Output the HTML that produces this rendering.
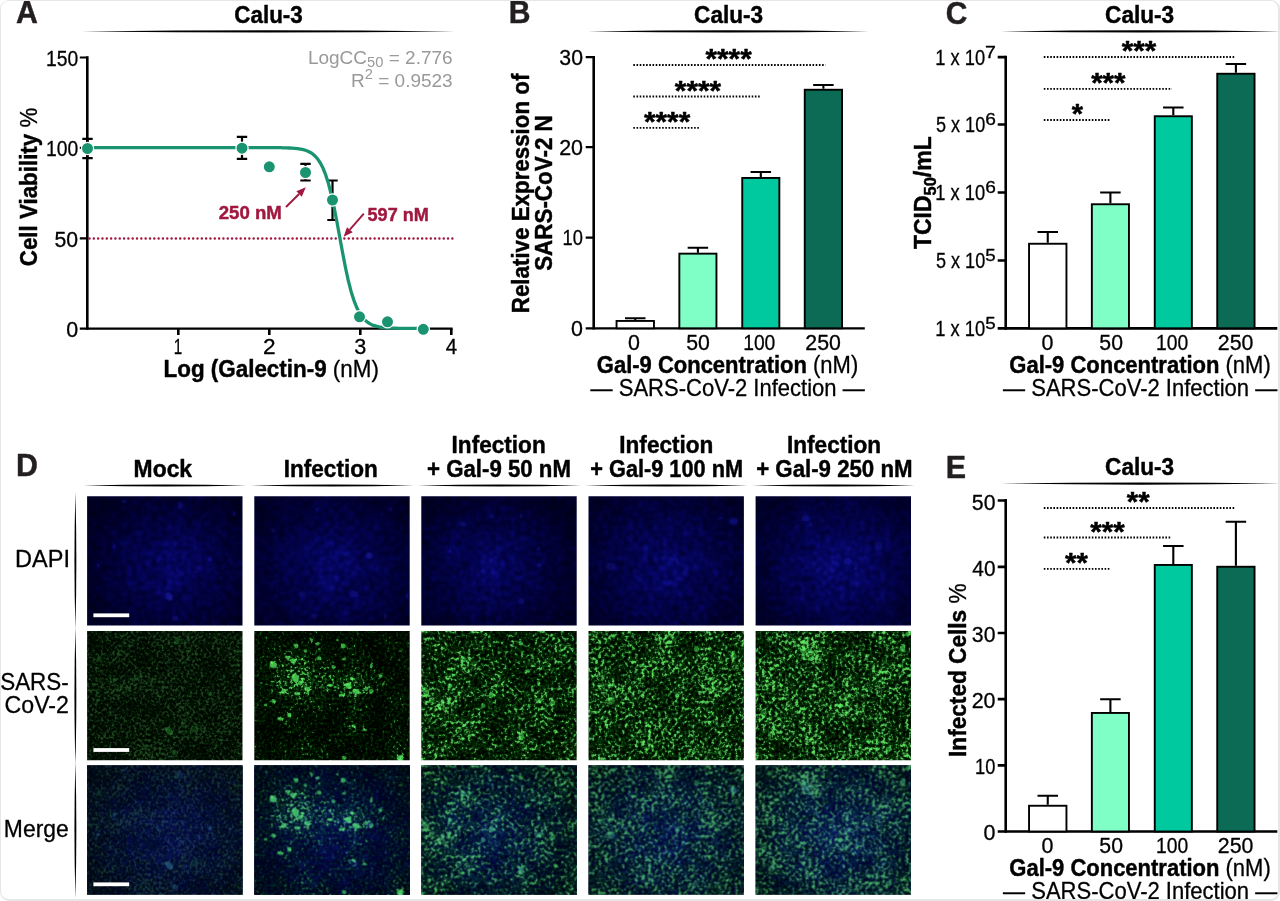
<!DOCTYPE html>
<html lang="en">
<head>
<meta charset="utf-8">
<title>Galectin-9 and SARS-CoV-2 infection in Calu-3 cells</title>
<style>
html,body{margin:0;padding:0;background:#fff;}
body{width:1280px;height:901px;overflow:hidden;position:relative;}
#frame{position:absolute;left:0;top:0;width:1280px;height:901px;box-sizing:border-box;border:1px solid #e6e6e6;border-right-width:2px;border-bottom-width:2px;border-radius:9px;pointer-events:none;}
svg{position:absolute;left:0;top:0;display:block;}
svg text{font-family:"Liberation Sans",sans-serif;stroke-linejoin:round;}
</style>
</head>
<body>
<svg width="1280" height="901" viewBox="0 0 1280 901">
<defs>
<clipPath id="page"><rect x="0" y="0" width="1278.5" height="899.3"/></clipPath>
<radialGradient id="rgw"><stop offset="0" stop-color="#fff"/><stop offset="0.5" stop-color="#fff" stop-opacity="0.6"/><stop offset="1" stop-color="#fff" stop-opacity="0"/></radialGradient><radialGradient id="rgk"><stop offset="0" stop-color="#000"/><stop offset="0.5" stop-color="#000" stop-opacity="0.6"/><stop offset="1" stop-color="#000" stop-opacity="0"/></radialGradient><filter id="bl1" x="-5%" y="-5%" width="110%" height="110%"><feGaussianBlur stdDeviation="0.6"/></filter><filter id="bl2" x="-5%" y="-5%" width="110%" height="110%"><feGaussianBlur stdDeviation="1.3"/></filter>
<filter id="gf0" x="0" y="0" width="100%" height="100%" color-interpolation-filters="sRGB"><feTurbulence type="fractalNoise" baseFrequency="0.36" numOctaves="2" seed="7"/><feColorMatrix type="matrix" values="1 0 0 0 0 1 0 0 0 0 1 0 0 0 0 0 0 0 0 1" result="h"/><feTurbulence type="fractalNoise" baseFrequency="0.045" numOctaves="2" seed="107"/><feColorMatrix type="matrix" values="1 0 0 0 0 1 0 0 0 0 1 0 0 0 0 0 0 0 0 1" result="l"/><feComposite in="h" in2="l" operator="arithmetic" k1="0" k2="1" k3="0.3" k4="-0.150" result="h"/><feComposite in="h" in2="SourceGraphic" operator="arithmetic" k1="0" k2="0.8" k3="0.06" k4="0.070"/><feComponentTransfer><feFuncR type="table" tableValues="0 0 0 0 0 0 0 0 0 0.004 0.007 0.022 0.05 0.079 0.101 0.115 0.122 0.13 0.133 0.137 0.137"/><feFuncG type="table" tableValues="0.004 0.004 0.004 0.004 0.007 0.011 0.018 0.029 0.04 0.05 0.065 0.094 0.14 0.198 0.248 0.284 0.31 0.324 0.335 0.342 0.342"/><feFuncB type="table" tableValues="0 0 0 0 0 0 0 0 0 0.004 0.011 0.025 0.054 0.083 0.104 0.119 0.126 0.133 0.137 0.14 0.14"/><feFuncA type="table" tableValues="1 1"/></feComponentTransfer><feGaussianBlur stdDeviation="0.6"/></filter><g id="gs0"><g filter="url(#gf0)"><rect width="155.4" height="129.2" fill="rgb(0,0,0)"/><ellipse cx="78" cy="64" rx="120" ry="100" fill="url(#rgw)" opacity="0.4"/><g filter="url(#bl1)"><ellipse cx="35" cy="5" rx="2.93" ry="1.95" fill="#fff" opacity="0.6"/><ellipse cx="90" cy="10" rx="3.9" ry="5.85" fill="#fff" opacity="0.5" transform="rotate(20 90 10)"/><ellipse cx="12" cy="28" rx="3.9" ry="4.88" fill="#fff" opacity="0.35"/><ellipse cx="27" cy="49" rx="2.44" ry="2.93" fill="#fff" opacity="0.7"/><ellipse cx="11" cy="62" rx="2.44" ry="1.95" fill="#fff" opacity="0.6"/><ellipse cx="11" cy="69" rx="2.93" ry="2.44" fill="#fff" opacity="0.7"/><ellipse cx="71" cy="65" rx="1.76" ry="1.76" fill="#fff" opacity="0.6"/><ellipse cx="123" cy="63" rx="2.44" ry="3.41" fill="#fff" opacity="0.7" transform="rotate(30 123 63)"/><ellipse cx="143" cy="64" rx="2.93" ry="1.76" fill="#fff" opacity="0.6"/><ellipse cx="82" cy="100" rx="4.88" ry="6.83" fill="#fff" opacity="0.7" transform="rotate(-35 82 100)"/><ellipse cx="108" cy="98" rx="5.85" ry="4.88" fill="#fff" opacity="0.35"/><ellipse cx="88" cy="122" rx="4.88" ry="3.9" fill="#fff" opacity="0.4"/><ellipse cx="117" cy="78" rx="2.93" ry="1.95" fill="#fff" opacity="0.5"/><ellipse cx="133" cy="109" rx="1.95" ry="1.95" fill="#fff" opacity="0.5"/><ellipse cx="151" cy="20" rx="1.46" ry="3.9" fill="#fff" opacity="0.5"/></g></g><g filter="url(#bl1)" opacity="0.6"><ellipse cx="35" cy="5" rx="1.95" ry="1.3" fill="#2a9a36" opacity="0.6"/><ellipse cx="90" cy="10" rx="2.6" ry="3.9" fill="#2a9a36" opacity="0.5" transform="rotate(20 90 10)"/><ellipse cx="12" cy="28" rx="2.6" ry="3.25" fill="#2a9a36" opacity="0.35"/><ellipse cx="27" cy="49" rx="1.62" ry="1.95" fill="#2a9a36" opacity="0.7"/><ellipse cx="11" cy="62" rx="1.62" ry="1.3" fill="#2a9a36" opacity="0.6"/><ellipse cx="11" cy="69" rx="1.95" ry="1.62" fill="#2a9a36" opacity="0.7"/><ellipse cx="71" cy="65" rx="1.17" ry="1.17" fill="#2a9a36" opacity="0.6"/><ellipse cx="123" cy="63" rx="1.62" ry="2.27" fill="#2a9a36" opacity="0.7" transform="rotate(30 123 63)"/><ellipse cx="143" cy="64" rx="1.95" ry="1.17" fill="#2a9a36" opacity="0.6"/><ellipse cx="82" cy="100" rx="3.25" ry="4.55" fill="#2a9a36" opacity="0.7" transform="rotate(-35 82 100)"/><ellipse cx="108" cy="98" rx="3.9" ry="3.25" fill="#2a9a36" opacity="0.35"/><ellipse cx="88" cy="122" rx="3.25" ry="2.6" fill="#2a9a36" opacity="0.4"/><ellipse cx="117" cy="78" rx="1.95" ry="1.3" fill="#2a9a36" opacity="0.5"/><ellipse cx="133" cy="109" rx="1.3" ry="1.3" fill="#2a9a36" opacity="0.5"/><ellipse cx="151" cy="20" rx="0.98" ry="2.6" fill="#2a9a36" opacity="0.5"/></g></g>
<filter id="df0" x="0" y="0" width="100%" height="100%" color-interpolation-filters="sRGB"><feTurbulence type="fractalNoise" baseFrequency="0.2" numOctaves="2" seed="41"/><feColorMatrix type="matrix" values="1 0 0 0 0 1 0 0 0 0 1 0 0 0 0 0 0 0 0 1" result="h"/><feTurbulence type="fractalNoise" baseFrequency="0.05" numOctaves="2" seed="141"/><feColorMatrix type="matrix" values="1 0 0 0 0 1 0 0 0 0 1 0 0 0 0 0 0 0 0 1" result="l"/><feComposite in="h" in2="l" operator="arithmetic" k1="0" k2="1" k3="0.35" k4="-0.175" result="h"/><feComposite in="h" in2="SourceGraphic" operator="arithmetic" k1="0" k2="0.55" k3="0.42" k4="0.005"/><feComponentTransfer><feFuncR type="table" tableValues="0 0 0 0 0 0 0 0 0 0.005 0.005 0.01 0.01 0.015 0.02 0.03 0.04 0.06 0.08 0.1 0.13"/><feFuncG type="table" tableValues="0 0 0 0 0 0 0 0 0 0.005 0.005 0.01 0.01 0.015 0.02 0.03 0.04 0.06 0.08 0.1 0.13"/><feFuncB type="table" tableValues="0.08 0.08 0.09 0.1 0.11 0.12 0.14 0.16 0.18 0.2 0.23 0.26 0.3 0.34 0.38 0.43 0.49 0.56 0.64 0.72 0.8"/><feFuncA type="table" tableValues="1 1"/></feComponentTransfer><feGaussianBlur stdDeviation="0.8"/></filter><g id="dp0"><g filter="url(#df0)"><rect width="155.4" height="129.2" fill="rgb(0,0,0)"/><ellipse cx="85" cy="70" rx="95" ry="85" fill="url(#rgw)" opacity="1.0"/></g><g filter="url(#bl2)"><ellipse cx="37" cy="5" rx="1.95" ry="1.62" fill="#1c1cb4" opacity="0.6"/><ellipse cx="93" cy="9" rx="2.6" ry="3.9" fill="#1c1cb4" opacity="0.4"/><ellipse cx="147" cy="17" rx="1.62" ry="2.6" fill="#1c1cb4" opacity="0.4"/><ellipse cx="27" cy="50" rx="1.62" ry="1.95" fill="#1c1cb4" opacity="0.5"/><ellipse cx="11" cy="69" rx="1.62" ry="1.3" fill="#1c1cb4" opacity="0.6"/><ellipse cx="71" cy="65" rx="1.17" ry="1.17" fill="#1c1cb4" opacity="0.5"/><ellipse cx="123" cy="63" rx="1.62" ry="2.27" fill="#1c1cb4" opacity="0.7" transform="rotate(30 123 63)"/><ellipse cx="143" cy="64" rx="1.95" ry="1.17" fill="#1c1cb4" opacity="0.4"/><ellipse cx="82" cy="100" rx="3.25" ry="4.55" fill="#1c1cb4" opacity="0.6" transform="rotate(-35 82 100)"/><ellipse cx="108" cy="76" rx="1.95" ry="1.3" fill="#1c1cb4" opacity="0.4"/><ellipse cx="88" cy="122" rx="3.25" ry="2.6" fill="#1c1cb4" opacity="0.4"/></g></g>
<filter id="gf1" x="0" y="0" width="100%" height="100%" color-interpolation-filters="sRGB"><feTurbulence type="fractalNoise" baseFrequency="0.36" numOctaves="2" seed="12"/><feColorMatrix type="matrix" values="1 0 0 0 0 1 0 0 0 0 1 0 0 0 0 0 0 0 0 1" result="h"/><feTurbulence type="fractalNoise" baseFrequency="0.045" numOctaves="2" seed="112"/><feColorMatrix type="matrix" values="1 0 0 0 0 1 0 0 0 0 1 0 0 0 0 0 0 0 0 1" result="l"/><feComposite in="h" in2="l" operator="arithmetic" k1="0" k2="1" k3="0.3" k4="-0.150" result="h"/><feComposite in="h" in2="SourceGraphic" operator="arithmetic" k1="0" k2="1.0" k3="0.24" k4="-0.210"/><feComponentTransfer><feFuncR type="table" tableValues="0 0 0 0 0 0 0 0 0 0.01 0.02 0.06 0.14 0.22 0.28 0.32 0.34 0.36 0.37 0.38 0.38"/><feFuncG type="table" tableValues="0.01 0.01 0.01 0.01 0.02 0.03 0.05 0.08 0.11 0.14 0.18 0.26 0.39 0.55 0.69 0.79 0.86 0.9 0.93 0.95 0.95"/><feFuncB type="table" tableValues="0 0 0 0 0 0 0 0 0 0.01 0.03 0.07 0.15 0.23 0.29 0.33 0.35 0.37 0.38 0.39 0.39"/><feFuncA type="table" tableValues="1 1"/></feComponentTransfer><feGaussianBlur stdDeviation="0.6"/></filter><g id="gs1"><g filter="url(#gf1)"><rect width="155.4" height="129.2" fill="rgb(0,0,0)"/><ellipse cx="45" cy="45" rx="42" ry="40" fill="url(#rgw)" opacity="1.0"/><ellipse cx="100" cy="52" rx="35" ry="22" fill="url(#rgw)" opacity="0.8"/><ellipse cx="35" cy="85" rx="14" ry="12" fill="url(#rgw)" opacity="0.6"/><ellipse cx="100" cy="98" rx="14" ry="10" fill="url(#rgw)" opacity="0.5"/><g filter="url(#bl1)"><ellipse cx="19" cy="34" rx="5.48" ry="4.27" fill="#fff" opacity="1"/><ellipse cx="39" cy="30" rx="4.27" ry="3.66" fill="#fff" opacity="0.9"/><ellipse cx="34" cy="27" rx="2.44" ry="3.05" fill="#fff" opacity="0.9"/><ellipse cx="42" cy="15" rx="3.05" ry="3.66" fill="#fff" opacity="0.8"/><ellipse cx="51" cy="20" rx="2.44" ry="2.44" fill="#fff" opacity="0.8"/><ellipse cx="57" cy="9" rx="1.83" ry="3.66" fill="#fff" opacity="0.8" transform="rotate(-30 57 9)"/><ellipse cx="63" cy="13" rx="2.44" ry="2.19" fill="#fff" opacity="0.8"/><ellipse cx="41" cy="47" rx="4.88" ry="7.31" fill="#fff" opacity="1" transform="rotate(-20 41 47)"/><ellipse cx="46" cy="52" rx="3.66" ry="3.66" fill="#fff" opacity="0.9"/><ellipse cx="29" cy="60" rx="3.66" ry="2.44" fill="#fff" opacity="0.9" transform="rotate(-30 29 60)"/><ellipse cx="43" cy="63" rx="3.66" ry="2.44" fill="#fff" opacity="0.9"/><ellipse cx="53" cy="58" rx="4.27" ry="3.66" fill="#fff" opacity="0.9"/><ellipse cx="19" cy="70" rx="3.05" ry="3.05" fill="#fff" opacity="0.8"/><ellipse cx="11" cy="74" rx="2.44" ry="1.83" fill="#fff" opacity="0.7"/><ellipse cx="65" cy="27" rx="3.05" ry="2.19" fill="#fff" opacity="0.9"/><ellipse cx="65" cy="18" rx="1.83" ry="1.83" fill="#fff" opacity="0.7"/><ellipse cx="79" cy="36" rx="2.68" ry="3.05" fill="#fff" opacity="0.8"/><ellipse cx="89" cy="15" rx="3.66" ry="3.66" fill="#fff" opacity="0.9" transform="rotate(40 89 15)"/><ellipse cx="90" cy="28" rx="2.44" ry="2.44" fill="#fff" opacity="0.8"/><ellipse cx="83" cy="9" rx="1.83" ry="1.46" fill="#fff" opacity="0.7"/><ellipse cx="94" cy="54" rx="4.88" ry="3.66" fill="#fff" opacity="1" transform="rotate(-30 94 54)"/><ellipse cx="97" cy="47" rx="2.19" ry="2.44" fill="#fff" opacity="0.8"/><ellipse cx="102" cy="61" rx="5.48" ry="3.05" fill="#fff" opacity="1" transform="rotate(15 102 61)"/><ellipse cx="87" cy="64" rx="3.66" ry="2.44" fill="#fff" opacity="0.9"/><ellipse cx="112" cy="58" rx="3.05" ry="3.05" fill="#fff" opacity="0.8"/><ellipse cx="117" cy="60" rx="3.66" ry="3.05" fill="#fff" opacity="0.7"/><ellipse cx="126" cy="45" rx="2.68" ry="2.68" fill="#fff" opacity="0.9"/><ellipse cx="129" cy="53" rx="1.46" ry="3.05" fill="#fff" opacity="0.7" transform="rotate(30 129 53)"/><ellipse cx="117" cy="35" rx="2.19" ry="3.41" fill="#fff" opacity="0.8"/><ellipse cx="35" cy="84" rx="3.05" ry="3.41" fill="#fff" opacity="1"/><ellipse cx="26" cy="88" rx="3.66" ry="2.44" fill="#fff" opacity="0.9"/><ellipse cx="99" cy="95" rx="2.44" ry="2.44" fill="#fff" opacity="0.9"/><ellipse cx="110" cy="99" rx="3.05" ry="1.83" fill="#fff" opacity="0.7"/><ellipse cx="146" cy="127" rx="4.27" ry="4.27" fill="#fff" opacity="1"/><ellipse cx="90" cy="127" rx="3.66" ry="3.05" fill="#fff" opacity="0.7"/><ellipse cx="7" cy="52" rx="2.44" ry="1.22" fill="#fff" opacity="0.6"/><ellipse cx="68" cy="54" rx="1.46" ry="1.46" fill="#fff" opacity="0.7"/><ellipse cx="76" cy="55" rx="3.05" ry="1.46" fill="#fff" opacity="0.8"/><ellipse cx="81" cy="56" rx="2.44" ry="1.46" fill="#fff" opacity="0.8"/><ellipse cx="146" cy="20" rx="2.44" ry="1.46" fill="#fff" opacity="0.5"/><ellipse cx="136" cy="67" rx="1.22" ry="1.22" fill="#fff" opacity="0.6"/><ellipse cx="100" cy="77" rx="1.22" ry="2.44" fill="#fff" opacity="0.6"/><ellipse cx="83" cy="78" rx="1.22" ry="1.22" fill="#fff" opacity="0.6"/></g></g><g filter="url(#bl1)" opacity="0.75"><ellipse cx="19" cy="34" rx="3.66" ry="2.84" fill="#55ec60" opacity="1"/><ellipse cx="39" cy="30" rx="2.84" ry="2.44" fill="#55ec60" opacity="0.9"/><ellipse cx="34" cy="27" rx="1.62" ry="2.03" fill="#55ec60" opacity="0.9"/><ellipse cx="42" cy="15" rx="2.03" ry="2.44" fill="#55ec60" opacity="0.8"/><ellipse cx="51" cy="20" rx="1.62" ry="1.62" fill="#55ec60" opacity="0.8"/><ellipse cx="57" cy="9" rx="1.22" ry="2.44" fill="#55ec60" opacity="0.8" transform="rotate(-30 57 9)"/><ellipse cx="63" cy="13" rx="1.62" ry="1.46" fill="#55ec60" opacity="0.8"/><ellipse cx="41" cy="47" rx="3.25" ry="4.88" fill="#55ec60" opacity="1" transform="rotate(-20 41 47)"/><ellipse cx="46" cy="52" rx="2.44" ry="2.44" fill="#55ec60" opacity="0.9"/><ellipse cx="29" cy="60" rx="2.44" ry="1.62" fill="#55ec60" opacity="0.9" transform="rotate(-30 29 60)"/><ellipse cx="43" cy="63" rx="2.44" ry="1.62" fill="#55ec60" opacity="0.9"/><ellipse cx="53" cy="58" rx="2.84" ry="2.44" fill="#55ec60" opacity="0.9"/><ellipse cx="19" cy="70" rx="2.03" ry="2.03" fill="#55ec60" opacity="0.8"/><ellipse cx="11" cy="74" rx="1.62" ry="1.22" fill="#55ec60" opacity="0.7"/><ellipse cx="65" cy="27" rx="2.03" ry="1.46" fill="#55ec60" opacity="0.9"/><ellipse cx="65" cy="18" rx="1.22" ry="1.22" fill="#55ec60" opacity="0.7"/><ellipse cx="79" cy="36" rx="1.79" ry="2.03" fill="#55ec60" opacity="0.8"/><ellipse cx="89" cy="15" rx="2.44" ry="2.44" fill="#55ec60" opacity="0.9" transform="rotate(40 89 15)"/><ellipse cx="90" cy="28" rx="1.62" ry="1.62" fill="#55ec60" opacity="0.8"/><ellipse cx="83" cy="9" rx="1.22" ry="0.98" fill="#55ec60" opacity="0.7"/><ellipse cx="94" cy="54" rx="3.25" ry="2.44" fill="#55ec60" opacity="1" transform="rotate(-30 94 54)"/><ellipse cx="97" cy="47" rx="1.46" ry="1.62" fill="#55ec60" opacity="0.8"/><ellipse cx="102" cy="61" rx="3.66" ry="2.03" fill="#55ec60" opacity="1" transform="rotate(15 102 61)"/><ellipse cx="87" cy="64" rx="2.44" ry="1.62" fill="#55ec60" opacity="0.9"/><ellipse cx="112" cy="58" rx="2.03" ry="2.03" fill="#55ec60" opacity="0.8"/><ellipse cx="117" cy="60" rx="2.44" ry="2.03" fill="#55ec60" opacity="0.7"/><ellipse cx="126" cy="45" rx="1.79" ry="1.79" fill="#55ec60" opacity="0.9"/><ellipse cx="129" cy="53" rx="0.98" ry="2.03" fill="#55ec60" opacity="0.7" transform="rotate(30 129 53)"/><ellipse cx="117" cy="35" rx="1.46" ry="2.27" fill="#55ec60" opacity="0.8"/><ellipse cx="35" cy="84" rx="2.03" ry="2.27" fill="#55ec60" opacity="1"/><ellipse cx="26" cy="88" rx="2.44" ry="1.62" fill="#55ec60" opacity="0.9"/><ellipse cx="99" cy="95" rx="1.62" ry="1.62" fill="#55ec60" opacity="0.9"/><ellipse cx="110" cy="99" rx="2.03" ry="1.22" fill="#55ec60" opacity="0.7"/><ellipse cx="146" cy="127" rx="2.84" ry="2.84" fill="#55ec60" opacity="1"/><ellipse cx="90" cy="127" rx="2.44" ry="2.03" fill="#55ec60" opacity="0.7"/><ellipse cx="7" cy="52" rx="1.62" ry="0.81" fill="#55ec60" opacity="0.6"/><ellipse cx="68" cy="54" rx="0.98" ry="0.98" fill="#55ec60" opacity="0.7"/><ellipse cx="76" cy="55" rx="2.03" ry="0.98" fill="#55ec60" opacity="0.8"/><ellipse cx="81" cy="56" rx="1.62" ry="0.98" fill="#55ec60" opacity="0.8"/><ellipse cx="146" cy="20" rx="1.62" ry="0.98" fill="#55ec60" opacity="0.5"/><ellipse cx="136" cy="67" rx="0.81" ry="0.81" fill="#55ec60" opacity="0.6"/><ellipse cx="100" cy="77" rx="0.81" ry="1.62" fill="#55ec60" opacity="0.6"/><ellipse cx="83" cy="78" rx="0.81" ry="0.81" fill="#55ec60" opacity="0.6"/></g></g>
<filter id="df1" x="0" y="0" width="100%" height="100%" color-interpolation-filters="sRGB"><feTurbulence type="fractalNoise" baseFrequency="0.2" numOctaves="2" seed="42"/><feColorMatrix type="matrix" values="1 0 0 0 0 1 0 0 0 0 1 0 0 0 0 0 0 0 0 1" result="h"/><feTurbulence type="fractalNoise" baseFrequency="0.05" numOctaves="2" seed="142"/><feColorMatrix type="matrix" values="1 0 0 0 0 1 0 0 0 0 1 0 0 0 0 0 0 0 0 1" result="l"/><feComposite in="h" in2="l" operator="arithmetic" k1="0" k2="1" k3="0.35" k4="-0.175" result="h"/><feComposite in="h" in2="SourceGraphic" operator="arithmetic" k1="0" k2="0.55" k3="0.42" k4="0.025"/><feComponentTransfer><feFuncR type="table" tableValues="0 0 0 0 0 0 0 0 0 0.005 0.005 0.01 0.01 0.015 0.02 0.03 0.04 0.06 0.08 0.1 0.13"/><feFuncG type="table" tableValues="0 0 0 0 0 0 0 0 0 0.005 0.005 0.01 0.01 0.015 0.02 0.03 0.04 0.06 0.08 0.1 0.13"/><feFuncB type="table" tableValues="0.08 0.08 0.09 0.1 0.11 0.12 0.14 0.16 0.18 0.2 0.23 0.26 0.3 0.34 0.38 0.43 0.49 0.56 0.64 0.72 0.8"/><feFuncA type="table" tableValues="1 1"/></feComponentTransfer><feGaussianBlur stdDeviation="0.8"/></filter><g id="dp1"><g filter="url(#df1)"><rect width="155.4" height="129.2" fill="rgb(0,0,0)"/><ellipse cx="80" cy="70" rx="100" ry="90" fill="url(#rgw)" opacity="1.0"/></g><g filter="url(#bl2)"><ellipse cx="63" cy="13" rx="1.62" ry="1.62" fill="#1c1cb4" opacity="0.4"/><ellipse cx="19" cy="34" rx="2.6" ry="1.95" fill="#1c1cb4" opacity="0.3"/><ellipse cx="115" cy="59" rx="3.25" ry="3.25" fill="#1c1cb4" opacity="0.6"/><ellipse cx="100" cy="98" rx="3.9" ry="3.25" fill="#1c1cb4" opacity="0.4"/><ellipse cx="48" cy="98" rx="3.25" ry="3.25" fill="#1c1cb4" opacity="0.3"/><ellipse cx="136" cy="13" rx="1.95" ry="1.95" fill="#1c1cb4" opacity="0.3"/><ellipse cx="60" cy="120" rx="3.25" ry="2.6" fill="#1c1cb4" opacity="0.3"/><ellipse cx="131" cy="120" rx="1.95" ry="3.25" fill="#1c1cb4" opacity="0.3"/><ellipse cx="153" cy="100" rx="1.3" ry="3.25" fill="#1c1cb4" opacity="0.4"/></g></g>
<filter id="gf2" x="0" y="0" width="100%" height="100%" color-interpolation-filters="sRGB"><feTurbulence type="fractalNoise" baseFrequency="0.3" numOctaves="2" seed="5"/><feColorMatrix type="matrix" values="1 0 0 0 0 1 0 0 0 0 1 0 0 0 0 0 0 0 0 1" result="h"/><feTurbulence type="fractalNoise" baseFrequency="0.045" numOctaves="2" seed="105"/><feColorMatrix type="matrix" values="1 0 0 0 0 1 0 0 0 0 1 0 0 0 0 0 0 0 0 1" result="l"/><feComposite in="h" in2="l" operator="arithmetic" k1="0" k2="1" k3="0.4" k4="-0.200" result="h"/><feComposite in="h" in2="SourceGraphic" operator="arithmetic" k1="0" k2="1.0" k3="0.13" k4="-0.080"/><feComponentTransfer><feFuncR type="table" tableValues="0 0 0 0 0 0 0 0 0 0.01 0.02 0.06 0.14 0.22 0.28 0.32 0.34 0.36 0.37 0.38 0.38"/><feFuncG type="table" tableValues="0.01 0.01 0.01 0.01 0.02 0.03 0.05 0.08 0.11 0.14 0.18 0.26 0.39 0.55 0.69 0.79 0.86 0.9 0.93 0.95 0.95"/><feFuncB type="table" tableValues="0 0 0 0 0 0 0 0 0 0.01 0.03 0.07 0.15 0.23 0.29 0.33 0.35 0.37 0.38 0.39 0.39"/><feFuncA type="table" tableValues="1 1"/></feComponentTransfer><feGaussianBlur stdDeviation="0.6"/></filter><g id="gs2"><g filter="url(#gf2)"><rect width="155.4" height="129.2" fill="rgb(0,0,0)"/><ellipse cx="20" cy="70" rx="40" ry="50" fill="url(#rgw)" opacity="0.9"/><ellipse cx="40" cy="30" rx="28" ry="25" fill="url(#rgw)" opacity="0.7"/><ellipse cx="70" cy="65" rx="25" ry="25" fill="url(#rgw)" opacity="0.6"/><ellipse cx="115" cy="75" rx="30" ry="28" fill="url(#rgw)" opacity="0.5"/><ellipse cx="40" cy="105" rx="35" ry="25" fill="url(#rgw)" opacity="0.6"/><ellipse cx="105" cy="105" rx="30" ry="20" fill="url(#rgw)" opacity="0.5"/><ellipse cx="125" cy="25" rx="30" ry="20" fill="url(#rgw)" opacity="0.3"/><ellipse cx="70" cy="10" rx="30" ry="15" fill="url(#rgk)" opacity="0.6"/><ellipse cx="140" cy="50" rx="20" ry="20" fill="url(#rgk)" opacity="0.5"/><g filter="url(#bl1)"><ellipse cx="99" cy="12" rx="2.44" ry="3.9" fill="#fff" opacity="1"/><ellipse cx="42" cy="28" rx="4.88" ry="3.9" fill="#fff" opacity="0.6"/><ellipse cx="4" cy="60" rx="3.9" ry="5.85" fill="#fff" opacity="0.7"/><ellipse cx="10" cy="70" rx="3.9" ry="2.93" fill="#fff" opacity="0.6"/><ellipse cx="29" cy="55" rx="2.93" ry="2.93" fill="#fff" opacity="0.8"/><ellipse cx="70" cy="64" rx="3.41" ry="4.39" fill="#fff" opacity="0.9"/><ellipse cx="62" cy="75" rx="3.9" ry="2.93" fill="#fff" opacity="0.7" transform="rotate(-30 62 75)"/><ellipse cx="118" cy="69" rx="5.85" ry="2.93" fill="#fff" opacity="0.6"/><ellipse cx="131" cy="72" rx="3.9" ry="4.88" fill="#fff" opacity="0.8" transform="rotate(40 131 72)"/><ellipse cx="107" cy="40" rx="2.44" ry="2.93" fill="#fff" opacity="0.8" transform="rotate(-40 107 40)"/><ellipse cx="117" cy="52" rx="1.95" ry="3.9" fill="#fff" opacity="0.7"/><ellipse cx="100" cy="105" rx="3.9" ry="4.88" fill="#fff" opacity="0.8"/><ellipse cx="134" cy="100" rx="3.41" ry="2.44" fill="#fff" opacity="0.9"/><ellipse cx="139" cy="20" rx="2.93" ry="1.95" fill="#fff" opacity="0.8"/><ellipse cx="148" cy="37" rx="2.44" ry="1.95" fill="#fff" opacity="0.7"/></g></g><g filter="url(#bl1)" opacity="0.6"><ellipse cx="99" cy="12" rx="1.62" ry="2.6" fill="#55ec60" opacity="1"/><ellipse cx="42" cy="28" rx="3.25" ry="2.6" fill="#55ec60" opacity="0.6"/><ellipse cx="4" cy="60" rx="2.6" ry="3.9" fill="#55ec60" opacity="0.7"/><ellipse cx="10" cy="70" rx="2.6" ry="1.95" fill="#55ec60" opacity="0.6"/><ellipse cx="29" cy="55" rx="1.95" ry="1.95" fill="#55ec60" opacity="0.8"/><ellipse cx="70" cy="64" rx="2.27" ry="2.93" fill="#55ec60" opacity="0.9"/><ellipse cx="62" cy="75" rx="2.6" ry="1.95" fill="#55ec60" opacity="0.7" transform="rotate(-30 62 75)"/><ellipse cx="118" cy="69" rx="3.9" ry="1.95" fill="#55ec60" opacity="0.6"/><ellipse cx="131" cy="72" rx="2.6" ry="3.25" fill="#55ec60" opacity="0.8" transform="rotate(40 131 72)"/><ellipse cx="107" cy="40" rx="1.62" ry="1.95" fill="#55ec60" opacity="0.8" transform="rotate(-40 107 40)"/><ellipse cx="117" cy="52" rx="1.3" ry="2.6" fill="#55ec60" opacity="0.7"/><ellipse cx="100" cy="105" rx="2.6" ry="3.25" fill="#55ec60" opacity="0.8"/><ellipse cx="134" cy="100" rx="2.27" ry="1.62" fill="#55ec60" opacity="0.9"/><ellipse cx="139" cy="20" rx="1.95" ry="1.3" fill="#55ec60" opacity="0.8"/><ellipse cx="148" cy="37" rx="1.62" ry="1.3" fill="#55ec60" opacity="0.7"/></g></g>
<filter id="df2" x="0" y="0" width="100%" height="100%" color-interpolation-filters="sRGB"><feTurbulence type="fractalNoise" baseFrequency="0.2" numOctaves="2" seed="43"/><feColorMatrix type="matrix" values="1 0 0 0 0 1 0 0 0 0 1 0 0 0 0 0 0 0 0 1" result="h"/><feTurbulence type="fractalNoise" baseFrequency="0.05" numOctaves="2" seed="143"/><feColorMatrix type="matrix" values="1 0 0 0 0 1 0 0 0 0 1 0 0 0 0 0 0 0 0 1" result="l"/><feComposite in="h" in2="l" operator="arithmetic" k1="0" k2="1" k3="0.35" k4="-0.175" result="h"/><feComposite in="h" in2="SourceGraphic" operator="arithmetic" k1="0" k2="0.55" k3="0.4" k4="0.005"/><feComponentTransfer><feFuncR type="table" tableValues="0 0 0 0 0 0 0 0 0 0.005 0.005 0.01 0.01 0.015 0.02 0.03 0.04 0.06 0.08 0.1 0.13"/><feFuncG type="table" tableValues="0 0 0 0 0 0 0 0 0 0.005 0.005 0.01 0.01 0.015 0.02 0.03 0.04 0.06 0.08 0.1 0.13"/><feFuncB type="table" tableValues="0.08 0.08 0.09 0.1 0.11 0.12 0.14 0.16 0.18 0.2 0.23 0.26 0.3 0.34 0.38 0.43 0.49 0.56 0.64 0.72 0.8"/><feFuncA type="table" tableValues="1 1"/></feComponentTransfer><feGaussianBlur stdDeviation="0.8"/></filter><g id="dp2"><g filter="url(#df2)"><rect width="155.4" height="129.2" fill="rgb(0,0,0)"/><ellipse cx="70" cy="70" rx="95" ry="85" fill="url(#rgw)" opacity="1.0"/></g><g filter="url(#bl2)"><ellipse cx="29" cy="55" rx="1.95" ry="1.95" fill="#1c1cb4" opacity="0.5"/><ellipse cx="42" cy="28" rx="3.25" ry="2.6" fill="#1c1cb4" opacity="0.35"/><ellipse cx="70" cy="20" rx="2.6" ry="1.95" fill="#1c1cb4" opacity="0.3"/><ellipse cx="100" cy="20" rx="1.95" ry="1.95" fill="#1c1cb4" opacity="0.4"/><ellipse cx="117" cy="52" rx="1.62" ry="1.95" fill="#1c1cb4" opacity="0.4"/><ellipse cx="118" cy="69" rx="2.6" ry="1.95" fill="#1c1cb4" opacity="0.4"/><ellipse cx="70" cy="64" rx="2.27" ry="2.6" fill="#1c1cb4" opacity="0.35"/><ellipse cx="62" cy="75" rx="2.6" ry="1.95" fill="#1c1cb4" opacity="0.3"/><ellipse cx="100" cy="105" rx="2.6" ry="3.25" fill="#1c1cb4" opacity="0.35"/></g></g>
<filter id="gf3" x="0" y="0" width="100%" height="100%" color-interpolation-filters="sRGB"><feTurbulence type="fractalNoise" baseFrequency="0.3" numOctaves="2" seed="9"/><feColorMatrix type="matrix" values="1 0 0 0 0 1 0 0 0 0 1 0 0 0 0 0 0 0 0 1" result="h"/><feTurbulence type="fractalNoise" baseFrequency="0.045" numOctaves="2" seed="109"/><feColorMatrix type="matrix" values="1 0 0 0 0 1 0 0 0 0 1 0 0 0 0 0 0 0 0 1" result="l"/><feComposite in="h" in2="l" operator="arithmetic" k1="0" k2="1" k3="0.4" k4="-0.200" result="h"/><feComposite in="h" in2="SourceGraphic" operator="arithmetic" k1="0" k2="1.0" k3="0.11" k4="-0.030"/><feComponentTransfer><feFuncR type="table" tableValues="0 0 0 0 0 0 0 0 0 0.01 0.02 0.06 0.14 0.22 0.28 0.32 0.34 0.36 0.37 0.38 0.38"/><feFuncG type="table" tableValues="0.01 0.01 0.01 0.01 0.02 0.03 0.05 0.08 0.11 0.14 0.18 0.26 0.39 0.55 0.69 0.79 0.86 0.9 0.93 0.95 0.95"/><feFuncB type="table" tableValues="0 0 0 0 0 0 0 0 0 0.01 0.03 0.07 0.15 0.23 0.29 0.33 0.35 0.37 0.38 0.39 0.39"/><feFuncA type="table" tableValues="1 1"/></feComponentTransfer><feGaussianBlur stdDeviation="0.6"/></filter><g id="gs3"><g filter="url(#gf3)"><rect width="155.4" height="129.2" fill="rgb(0,0,0)"/><ellipse cx="22" cy="70" rx="30" ry="28" fill="url(#rgw)" opacity="1.0"/><ellipse cx="65" cy="45" rx="40" ry="30" fill="url(#rgw)" opacity="0.5"/><ellipse cx="120" cy="30" rx="35" ry="30" fill="url(#rgw)" opacity="0.5"/><ellipse cx="115" cy="100" rx="40" ry="30" fill="url(#rgw)" opacity="0.5"/><ellipse cx="60" cy="110" rx="35" ry="22" fill="url(#rgw)" opacity="0.5"/><ellipse cx="15" cy="110" rx="18" ry="15" fill="url(#rgk)" opacity="0.7"/><ellipse cx="35" cy="18" rx="18" ry="12" fill="url(#rgk)" opacity="0.6"/><ellipse cx="100" cy="85" rx="15" ry="12" fill="url(#rgk)" opacity="0.5"/><g filter="url(#bl1)"><ellipse cx="22" cy="70" rx="6.83" ry="5.85" fill="#fff" opacity="0.5"/><ellipse cx="25" cy="5" rx="2.93" ry="2.93" fill="#fff" opacity="0.8"/><ellipse cx="55" cy="35" rx="3.9" ry="2.44" fill="#fff" opacity="0.7"/><ellipse cx="108" cy="18" rx="3.9" ry="4.39" fill="#fff" opacity="0.7"/><ellipse cx="145" cy="25" rx="4.88" ry="3.9" fill="#fff" opacity="0.6"/><ellipse cx="132" cy="22" rx="2.44" ry="1.95" fill="#fff" opacity="0.8"/><ellipse cx="89" cy="65" rx="2.44" ry="4.39" fill="#fff" opacity="0.8"/></g></g><g filter="url(#bl1)" opacity="0.6"><ellipse cx="22" cy="70" rx="4.55" ry="3.9" fill="#55ec60" opacity="0.5"/><ellipse cx="25" cy="5" rx="1.95" ry="1.95" fill="#55ec60" opacity="0.8"/><ellipse cx="55" cy="35" rx="2.6" ry="1.62" fill="#55ec60" opacity="0.7"/><ellipse cx="108" cy="18" rx="2.6" ry="2.93" fill="#55ec60" opacity="0.7"/><ellipse cx="145" cy="25" rx="3.25" ry="2.6" fill="#55ec60" opacity="0.6"/><ellipse cx="132" cy="22" rx="1.62" ry="1.3" fill="#55ec60" opacity="0.8"/><ellipse cx="89" cy="65" rx="1.62" ry="2.93" fill="#55ec60" opacity="0.8"/></g></g>
<filter id="df3" x="0" y="0" width="100%" height="100%" color-interpolation-filters="sRGB"><feTurbulence type="fractalNoise" baseFrequency="0.2" numOctaves="2" seed="44"/><feColorMatrix type="matrix" values="1 0 0 0 0 1 0 0 0 0 1 0 0 0 0 0 0 0 0 1" result="h"/><feTurbulence type="fractalNoise" baseFrequency="0.05" numOctaves="2" seed="144"/><feColorMatrix type="matrix" values="1 0 0 0 0 1 0 0 0 0 1 0 0 0 0 0 0 0 0 1" result="l"/><feComposite in="h" in2="l" operator="arithmetic" k1="0" k2="1" k3="0.35" k4="-0.175" result="h"/><feComposite in="h" in2="SourceGraphic" operator="arithmetic" k1="0" k2="0.55" k3="0.4" k4="0.025"/><feComponentTransfer><feFuncR type="table" tableValues="0 0 0 0 0 0 0 0 0 0.005 0.005 0.01 0.01 0.015 0.02 0.03 0.04 0.06 0.08 0.1 0.13"/><feFuncG type="table" tableValues="0 0 0 0 0 0 0 0 0 0.005 0.005 0.01 0.01 0.015 0.02 0.03 0.04 0.06 0.08 0.1 0.13"/><feFuncB type="table" tableValues="0.08 0.08 0.09 0.1 0.11 0.12 0.14 0.16 0.18 0.2 0.23 0.26 0.3 0.34 0.38 0.43 0.49 0.56 0.64 0.72 0.8"/><feFuncA type="table" tableValues="1 1"/></feComponentTransfer><feGaussianBlur stdDeviation="0.8"/></filter><g id="dp3"><g filter="url(#df3)"><rect width="155.4" height="129.2" fill="rgb(0,0,0)"/><ellipse cx="78" cy="70" rx="105" ry="95" fill="url(#rgw)" opacity="1.0"/></g><g filter="url(#bl2)"><ellipse cx="145" cy="25" rx="4.55" ry="3.25" fill="#1c1cb4" opacity="0.5"/><ellipse cx="132" cy="22" rx="1.62" ry="1.3" fill="#1c1cb4" opacity="0.5"/><ellipse cx="89" cy="65" rx="0.98" ry="3.25" fill="#1c1cb4" opacity="0.5" transform="rotate(-15 89 65)"/><ellipse cx="22" cy="70" rx="5.2" ry="3.9" fill="#1c1cb4" opacity="0.25"/></g></g>
<filter id="gf4" x="0" y="0" width="100%" height="100%" color-interpolation-filters="sRGB"><feTurbulence type="fractalNoise" baseFrequency="0.3" numOctaves="2" seed="14"/><feColorMatrix type="matrix" values="1 0 0 0 0 1 0 0 0 0 1 0 0 0 0 0 0 0 0 1" result="h"/><feTurbulence type="fractalNoise" baseFrequency="0.045" numOctaves="2" seed="114"/><feColorMatrix type="matrix" values="1 0 0 0 0 1 0 0 0 0 1 0 0 0 0 0 0 0 0 1" result="l"/><feComposite in="h" in2="l" operator="arithmetic" k1="0" k2="1" k3="0.4" k4="-0.200" result="h"/><feComposite in="h" in2="SourceGraphic" operator="arithmetic" k1="0" k2="1.0" k3="0.11" k4="-0.020"/><feComponentTransfer><feFuncR type="table" tableValues="0 0 0 0 0 0 0 0 0 0.01 0.02 0.06 0.14 0.22 0.28 0.32 0.34 0.36 0.37 0.38 0.38"/><feFuncG type="table" tableValues="0.01 0.01 0.01 0.01 0.02 0.03 0.05 0.08 0.11 0.14 0.18 0.26 0.39 0.55 0.69 0.79 0.86 0.9 0.93 0.95 0.95"/><feFuncB type="table" tableValues="0 0 0 0 0 0 0 0 0 0.01 0.03 0.07 0.15 0.23 0.29 0.33 0.35 0.37 0.38 0.39 0.39"/><feFuncA type="table" tableValues="1 1"/></feComponentTransfer><feGaussianBlur stdDeviation="0.6"/></filter><g id="gs4"><g filter="url(#gf4)"><rect width="155.4" height="129.2" fill="rgb(0,0,0)"/><ellipse cx="50" cy="25" rx="28" ry="22" fill="url(#rgw)" opacity="0.9"/><ellipse cx="15" cy="80" rx="25" ry="30" fill="url(#rgw)" opacity="0.8"/><ellipse cx="90" cy="65" rx="30" ry="25" fill="url(#rgw)" opacity="0.6"/><ellipse cx="135" cy="115" rx="25" ry="18" fill="url(#rgw)" opacity="0.7"/><ellipse cx="135" cy="45" rx="25" ry="25" fill="url(#rgw)" opacity="0.5"/><ellipse cx="60" cy="105" rx="40" ry="25" fill="url(#rgw)" opacity="0.4"/><ellipse cx="100" cy="12" rx="25" ry="10" fill="url(#rgk)" opacity="0.6"/><ellipse cx="20" cy="30" rx="12" ry="14" fill="url(#rgk)" opacity="0.4"/><g filter="url(#bl1)"><ellipse cx="48" cy="20" rx="4.88" ry="3.9" fill="#fff" opacity="0.8"/><ellipse cx="55" cy="28" rx="3.9" ry="2.93" fill="#fff" opacity="0.9"/><ellipse cx="147" cy="18" rx="4.39" ry="4.88" fill="#fff" opacity="0.8"/><ellipse cx="14" cy="8" rx="3.9" ry="2.93" fill="#fff" opacity="0.7"/><ellipse cx="8" cy="82" rx="4.88" ry="5.85" fill="#fff" opacity="0.5"/><ellipse cx="92" cy="65" rx="4.88" ry="3.9" fill="#fff" opacity="0.6"/><ellipse cx="133" cy="118" rx="4.39" ry="3.9" fill="#fff" opacity="0.8"/><ellipse cx="113" cy="110" rx="3.9" ry="2.93" fill="#fff" opacity="0.7"/><ellipse cx="152" cy="3" rx="2.93" ry="2.93" fill="#fff" opacity="1"/></g></g><g filter="url(#bl1)" opacity="0.6"><ellipse cx="48" cy="20" rx="3.25" ry="2.6" fill="#55ec60" opacity="0.8"/><ellipse cx="55" cy="28" rx="2.6" ry="1.95" fill="#55ec60" opacity="0.9"/><ellipse cx="147" cy="18" rx="2.93" ry="3.25" fill="#55ec60" opacity="0.8"/><ellipse cx="14" cy="8" rx="2.6" ry="1.95" fill="#55ec60" opacity="0.7"/><ellipse cx="8" cy="82" rx="3.25" ry="3.9" fill="#55ec60" opacity="0.5"/><ellipse cx="92" cy="65" rx="3.25" ry="2.6" fill="#55ec60" opacity="0.6"/><ellipse cx="133" cy="118" rx="2.93" ry="2.6" fill="#55ec60" opacity="0.8"/><ellipse cx="113" cy="110" rx="2.6" ry="1.95" fill="#55ec60" opacity="0.7"/><ellipse cx="152" cy="3" rx="1.95" ry="1.95" fill="#55ec60" opacity="1"/></g></g>
<filter id="df4" x="0" y="0" width="100%" height="100%" color-interpolation-filters="sRGB"><feTurbulence type="fractalNoise" baseFrequency="0.2" numOctaves="2" seed="45"/><feColorMatrix type="matrix" values="1 0 0 0 0 1 0 0 0 0 1 0 0 0 0 0 0 0 0 1" result="h"/><feTurbulence type="fractalNoise" baseFrequency="0.05" numOctaves="2" seed="145"/><feColorMatrix type="matrix" values="1 0 0 0 0 1 0 0 0 0 1 0 0 0 0 0 0 0 0 1" result="l"/><feComposite in="h" in2="l" operator="arithmetic" k1="0" k2="1" k3="0.35" k4="-0.175" result="h"/><feComposite in="h" in2="SourceGraphic" operator="arithmetic" k1="0" k2="0.55" k3="0.44" k4="0.045"/><feComponentTransfer><feFuncR type="table" tableValues="0 0 0 0 0 0 0 0 0 0.005 0.005 0.01 0.01 0.015 0.02 0.03 0.04 0.06 0.08 0.1 0.13"/><feFuncG type="table" tableValues="0 0 0 0 0 0 0 0 0 0.005 0.005 0.01 0.01 0.015 0.02 0.03 0.04 0.06 0.08 0.1 0.13"/><feFuncB type="table" tableValues="0.08 0.08 0.09 0.1 0.11 0.12 0.14 0.16 0.18 0.2 0.23 0.26 0.3 0.34 0.38 0.43 0.49 0.56 0.64 0.72 0.8"/><feFuncA type="table" tableValues="1 1"/></feComponentTransfer><feGaussianBlur stdDeviation="0.8"/></filter><g id="dp4"><g filter="url(#df4)"><rect width="155.4" height="129.2" fill="rgb(0,0,0)"/><ellipse cx="85" cy="70" rx="105" ry="95" fill="url(#rgw)" opacity="1.0"/></g><g filter="url(#bl2)"><ellipse cx="50" cy="22" rx="3.9" ry="3.25" fill="#1c1cb4" opacity="0.45"/><ellipse cx="55" cy="28" rx="1.95" ry="1.62" fill="#1c1cb4" opacity="0.5"/><ellipse cx="92" cy="65" rx="3.9" ry="3.25" fill="#1c1cb4" opacity="0.5"/><ellipse cx="100" cy="72" rx="1.95" ry="1.95" fill="#1c1cb4" opacity="0.5"/><ellipse cx="123" cy="50" rx="3.9" ry="5.2" fill="#1c1cb4" opacity="0.3"/></g></g>
</defs>
<g clip-path="url(#page)">
<g id="panelA">
<text transform="translate(16.04 23.1) scale(0.9680 1)" fill="#231f20"><tspan font-size="31.3" font-weight="bold" stroke="#231f20" stroke-width="0.45">A</tspan></text>
<text transform="translate(234.3 23.1) scale(0.9379 1)" fill="#000"><tspan font-size="23.9" font-weight="bold" stroke="#000" stroke-width="0.45">Calu-3</tspan></text>
<path d="M82 31.4 Q268.5 29.2 455 31.4 Q268.5 33.6 82 31.4 Z" fill="#000"/>
<path d="M87.3 56.2 V329.7" fill="none" stroke="#000" stroke-width="2.6"/>
<path d="M86 328.6 H452.6M79.8 57.5 H87.3M79.8 147.8 H87.3M79.8 238.4 H87.3M79.8 328.6 H87.3" stroke="#000" stroke-width="2.2" fill="none"/>
<path d="M178.3 328.6 V335.1M269.3 328.6 V335.1M360.3 328.6 V335.1M451.3 328.6 V335.1" stroke="#000" stroke-width="2.6" fill="none"/>
<text transform="translate(173.86 354) scale(0.6960 1)" fill="#000"><tspan font-size="21.8" stroke="#000" stroke-width="0.3">1</tspan></text>
<text transform="translate(263.02 354) scale(1.0384 1)" fill="#000"><tspan font-size="21.8" stroke="#000" stroke-width="0.3">2</tspan></text>
<text transform="translate(354.28 354) scale(0.9947 1)" fill="#000"><tspan font-size="21.8" stroke="#000" stroke-width="0.3">3</tspan></text>
<text transform="translate(445.74 354) scale(0.9356 1)" fill="#000"><tspan font-size="21.8" stroke="#000" stroke-width="0.3">4</tspan></text>
<text transform="translate(45.95 65.7) scale(0.8850 1)" fill="#000"><tspan font-size="21.8" stroke="#000" stroke-width="0.3">150</tspan></text>
<text transform="translate(45.95 156.1) scale(0.8850 1)" fill="#000"><tspan font-size="21.8" stroke="#000" stroke-width="0.3">100</tspan></text>
<text transform="translate(54.55 246.5) scale(0.9750 1)" fill="#000"><tspan font-size="21.8" stroke="#000" stroke-width="0.3">50</tspan></text>
<text transform="translate(66.24 336.9) scale(0.9843 1)" fill="#000"><tspan font-size="21.8" stroke="#000" stroke-width="0.3">0</tspan></text>
<text transform="translate(37.3 266.19) rotate(-90) scale(0.9347 1)" fill="#000"><tspan font-size="23.9" font-weight="bold" stroke="#000" stroke-width="0.45">Cell Viability</tspan><tspan font-size="23.9" stroke="#000" stroke-width="0.3"> %</tspan></text>
<text transform="translate(163.54 376.5) scale(0.9380 1)" fill="#000"><tspan font-size="23.9" font-weight="bold" stroke="#000" stroke-width="0.45">Log (Galectin-9</tspan><tspan font-size="23.9" stroke="#000" stroke-width="0.3"> (nM)</tspan></text>
<text transform="translate(307.88 63.8) scale(0.9955 1)" fill="#999"><tspan font-size="19.1">LogCC</tspan><tspan font-size="14.8" dy="3.6">50</tspan><tspan font-size="19.1" dy="-3.6"> = 2.776</tspan></text>
<text transform="translate(350.98 86.9) scale(0.9954 1)" fill="#999"><tspan font-size="19.1">R</tspan><tspan font-size="14.8" dy="-8.0">2</tspan><tspan font-size="19.1" dy="8.0"> = 0.9523</tspan></text>
<line x1="89.5" y1="238.5" x2="453.5" y2="238.5" stroke="#a0183f" stroke-width="2.5" stroke-linecap="round" stroke-dasharray="0 4.32"/>
<path d="M87.5 138.8 V158.2 M82.3 138.8 H92.7 M82.3 158.2 H92.7M242 136.8 V158.8 M236.8 136.8 H247.2 M236.8 158.8 H247.2M305.5 163.8 V180.5 M300.3 163.8 H310.7 M300.3 180.5 H310.7M332.5 180.5 V220 M327.3 180.5 H337.7 M327.3 220 H337.7" stroke="#000" stroke-width="2.2" fill="none"/>
<path d="M87.3 147.6 L115.4 147.6 L143.4 147.6 L171.5 147.6 L199.5 147.6 L227.6 147.6 L255.6 147.6 L269.7 147.6 L272.5 147.7 L275.3 147.7 L278.1 147.7 L280.9 147.7 L283.7 147.8 L286.5 147.9 L289.3 148.0 L292.1 148.1 L294.9 148.4 L297.7 148.7 L300.5 149.1 L303.3 149.7 L306.2 150.5 L309.0 151.7 L311.8 153.3 L314.6 155.6 L317.4 158.6 L320.2 162.7 L323.0 168.1 L325.8 175.2 L328.6 184.1 L331.4 195.0 L334.2 207.9 L337.0 222.3 L339.8 237.5 L342.6 252.8 L345.4 267.2 L348.2 280.2 L351.0 291.2 L353.9 300.3 L356.7 307.5 L359.5 313.0 L362.3 317.2 L365.1 320.3 L367.9 322.5 L370.7 324.2 L373.5 325.4 L376.3 326.2 L379.1 326.9 L381.9 327.3 L384.7 327.6 L387.5 327.8 L390.3 328.0 L393.1 328.1 L395.9 328.2 L398.7 328.3 L401.6 328.3 L404.4 328.3 L407.2 328.3 L410.0 328.4 L412.8 328.4 L415.6 328.4 L418.4 328.4 L421.2 328.4 L424.0 328.4" fill="none" stroke="#1a9470" stroke-width="3.3" stroke-linejoin="round"/>
<circle cx="87.5" cy="148.5" r="6.1" fill="#1a9470" stroke="#fff" stroke-width="1.2"/>
<circle cx="242" cy="148.2" r="6.1" fill="#1a9470" stroke="#fff" stroke-width="1.2"/>
<circle cx="269.3" cy="166.8" r="6.1" fill="#1a9470" stroke="#fff" stroke-width="1.2"/>
<circle cx="305.5" cy="172.5" r="6.1" fill="#1a9470" stroke="#fff" stroke-width="1.2"/>
<circle cx="332.5" cy="200" r="6.1" fill="#1a9470" stroke="#fff" stroke-width="1.2"/>
<circle cx="359.5" cy="316.8" r="6.1" fill="#1a9470" stroke="#fff" stroke-width="1.2"/>
<circle cx="387.5" cy="321.8" r="6.1" fill="#1a9470" stroke="#fff" stroke-width="1.2"/>
<circle cx="423.3" cy="329.3" r="6.1" fill="#1a9470" stroke="#fff" stroke-width="1.2"/>
<text transform="translate(218.75 219.3) scale(1.0109 1)" fill="#a0183f"><tspan font-size="18.4" font-weight="bold" stroke="#a0183f" stroke-width="0.45">250 nM</tspan></text>
<text transform="translate(367.56 220.7) scale(0.9812 1)" fill="#a0183f"><tspan font-size="18.4" font-weight="bold" stroke="#a0183f" stroke-width="0.45">597 nM</tspan></text>
<line x1="286.00" y1="207.00" x2="299.07" y2="194.00" stroke="#a0183f" stroke-width="1.9"/>
<path d="M305.80 187.30 L301.75 196.69 L296.39 191.31 Z" fill="#a0183f"/>
<line x1="363.80" y1="213.70" x2="349.85" y2="229.65" stroke="#a0183f" stroke-width="1.9"/>
<path d="M343.60 236.80 L346.99 227.15 L352.71 232.15 Z" fill="#a0183f"/>
</g>
<g>
<text transform="translate(508.64 23.1) scale(0.9637 1)" fill="#231f20"><tspan font-size="31.3" font-weight="bold" stroke="#231f20" stroke-width="0.45">B</tspan></text>
<text transform="translate(694.1 23.1) scale(0.9449 1)" fill="#000"><tspan font-size="23.9" font-weight="bold" stroke="#000" stroke-width="0.45">Calu-3</tspan></text>
<path d="M588 31.4 Q728.5 29.2 869 31.4 Q728.5 33.6 588 31.4 Z" fill="#000"/>
<path d="M593.7 55.9 V329.4" fill="none" stroke="#000" stroke-width="2.6"/>
<path d="M592.4 328.3 H864.8M585.7 57.2 H593.7M585.7 147.2 H593.7M585.7 237.6 H593.7M585.7 328.3 H593.7" stroke="#000" stroke-width="2.2" fill="none"/>
<text transform="translate(559.35 64.7) scale(0.9750 1)" fill="#000"><tspan font-size="21.8" stroke="#000" stroke-width="0.3">30</tspan></text>
<text transform="translate(559.13 154.7) scale(0.9846 1)" fill="#000"><tspan font-size="21.8" stroke="#000" stroke-width="0.3">20</tspan></text>
<text transform="translate(562.53 245.1) scale(0.8394 1)" fill="#000"><tspan font-size="21.8" stroke="#000" stroke-width="0.3">10</tspan></text>
<text transform="translate(571.04 335.8) scale(0.9843 1)" fill="#000"><tspan font-size="21.8" stroke="#000" stroke-width="0.3">0</tspan></text>
<text transform="translate(529.2 313.25) rotate(-90) scale(0.9357 1)" fill="#000"><tspan font-size="23.9" font-weight="bold" stroke="#000" stroke-width="0.45">Relative Expression of</tspan></text>
<text transform="translate(552.2 270.87) rotate(-90) scale(0.9382 1)" fill="#000"><tspan font-size="23.9" font-weight="bold" stroke="#000" stroke-width="0.45">SARS-CoV-2 N</tspan></text>
<path d="M635.25 320 V318.2 M625 318.2 H645.5" stroke="#000" stroke-width="2.1" fill="none"/>
<rect x="616.55" y="320.95" width="37.4" height="7.35" fill="#ffffff" stroke="#000" stroke-width="1.9"/>
<path d="M697.9 252.7 V247.8 M687.65 247.8 H708.15" stroke="#000" stroke-width="2.1" fill="none"/>
<rect x="679.35" y="253.65" width="37.1" height="74.65" fill="#7fffc6" stroke="#000" stroke-width="1.9"/>
<path d="M760.8 177 V172 M750.55 172 H771.05" stroke="#000" stroke-width="2.1" fill="none"/>
<rect x="742.25" y="177.95" width="37.1" height="150.35" fill="#00c9a0" stroke="#000" stroke-width="1.9"/>
<path d="M823.4 88.8 V85 M813.15 85 H833.65" stroke="#000" stroke-width="2.1" fill="none"/>
<rect x="804.75" y="89.75" width="37.3" height="238.55" fill="#0b6b55" stroke="#000" stroke-width="1.9"/>
<text transform="translate(627.89 350.3) scale(0.9843 1)" fill="#000"><tspan font-size="21.8" stroke="#000" stroke-width="0.3">0</tspan></text>
<text transform="translate(686.15 350.3) scale(0.9750 1)" fill="#000"><tspan font-size="21.8" stroke="#000" stroke-width="0.3">50</tspan></text>
<text transform="translate(743.15 350.3) scale(0.8850 1)" fill="#000"><tspan font-size="21.8" stroke="#000" stroke-width="0.3">100</tspan></text>
<text transform="translate(805.28 350.3) scale(0.9784 1)" fill="#000"><tspan font-size="21.8" stroke="#000" stroke-width="0.3">250</tspan></text>
<text transform="translate(596.82 372.7) scale(0.9205 1)" fill="#000"><tspan font-size="23.9" font-weight="bold" stroke="#000" stroke-width="0.45">Gal-9 Concentration</tspan><tspan font-size="23.9" stroke="#000" stroke-width="0.3"> (nM)</tspan></text>
<text transform="translate(590.6 395.6) scale(0.9222 1)" fill="#000"><tspan font-size="23.9" stroke="#000" stroke-width="0.3">— SARS-CoV-2 Infection —</tspan></text>
<line x1="633.3" y1="65" x2="825.5" y2="65" stroke="#000" stroke-width="1.8" stroke-dasharray="1.6 1.6"/>
<text transform="translate(705.55 68.3) scale(1.0899 1)" fill="#000"><tspan font-size="27.2" font-weight="bold" stroke="#000" stroke-width="0.45">****</tspan></text>
<line x1="633.3" y1="96.5" x2="761.3" y2="96.5" stroke="#000" stroke-width="1.8" stroke-dasharray="1.6 1.6"/>
<text transform="translate(674.85 99.8) scale(1.0899 1)" fill="#000"><tspan font-size="27.2" font-weight="bold" stroke="#000" stroke-width="0.45">****</tspan></text>
<line x1="633.3" y1="127.8" x2="699.5" y2="127.8" stroke="#000" stroke-width="1.8" stroke-dasharray="1.6 1.6"/>
<text transform="translate(644.05 131.1) scale(1.0899 1)" fill="#000"><tspan font-size="27.2" font-weight="bold" stroke="#000" stroke-width="0.45">****</tspan></text>
</g>
<g>
<text transform="translate(945.8 23.6) scale(0.9560 1)" fill="#231f20"><tspan font-size="31.3" font-weight="bold" stroke="#231f20" stroke-width="0.45">C</tspan></text>
<text transform="translate(1105.1 23.1) scale(0.9449 1)" fill="#000"><tspan font-size="23.9" font-weight="bold" stroke="#000" stroke-width="0.45">Calu-3</tspan></text>
<path d="M1000.5 31.4 Q1141 29.2 1281.5 31.4 Q1141 33.6 1000.5 31.4 Z" fill="#000"/>
<path d="M1005.7 55.65 V329.65" fill="none" stroke="#000" stroke-width="2.6"/>
<path d="M1004.4 328.3 H1277.3M997.7 57.2 H1005.7M997.7 124.5 H1005.7M997.7 192.5 H1005.7M997.7 260.5 H1005.7M997.7 328.3 H1005.7" stroke="#000" stroke-width="2.7" fill="none"/>
<text transform="translate(935.33 64.6) scale(0.8402 1)" fill="#000"><tspan font-size="21.8" stroke="#000" stroke-width="0.3">1 x 10</tspan></text>
<text transform="translate(985.12 57.6) scale(1.1643 1)" fill="#000"><tspan font-size="16.8" stroke="#000" stroke-width="0.3">7</tspan></text>
<text transform="translate(935.98 131.9) scale(0.8292 1)" fill="#000"><tspan font-size="21.8" stroke="#000" stroke-width="0.3">5 x 10</tspan></text>
<text transform="translate(985.14 124.9) scale(1.1393 1)" fill="#000"><tspan font-size="16.8" stroke="#000" stroke-width="0.3">6</tspan></text>
<text transform="translate(935.33 199.9) scale(0.8402 1)" fill="#000"><tspan font-size="21.8" stroke="#000" stroke-width="0.3">1 x 10</tspan></text>
<text transform="translate(985.14 192.9) scale(1.1393 1)" fill="#000"><tspan font-size="16.8" stroke="#000" stroke-width="0.3">6</tspan></text>
<text transform="translate(935.98 267.9) scale(0.8292 1)" fill="#000"><tspan font-size="21.8" stroke="#000" stroke-width="0.3">5 x 10</tspan></text>
<text transform="translate(985.35 260.9) scale(1.1153 1)" fill="#000"><tspan font-size="16.8" stroke="#000" stroke-width="0.3">5</tspan></text>
<text transform="translate(935.33 335.7) scale(0.8402 1)" fill="#000"><tspan font-size="21.8" stroke="#000" stroke-width="0.3">1 x 10</tspan></text>
<text transform="translate(985.35 328.7) scale(1.1153 1)" fill="#000"><tspan font-size="16.8" stroke="#000" stroke-width="0.3">5</tspan></text>
<text transform="translate(931.3 249.03) rotate(-90) scale(0.9627 1)" fill="#000"><tspan font-size="23.9" font-weight="bold" stroke="#000" stroke-width="0.45">TCID</tspan><tspan font-size="17" font-weight="bold" stroke="#000" stroke-width="0.45" dy="4.2">50</tspan><tspan font-size="23.9" font-weight="bold" stroke="#000" stroke-width="0.45" dy="-4.2">/mL</tspan></text>
<path d="M1047.75 242.8 V232 M1037.5 232 H1058" stroke="#000" stroke-width="2.1" fill="none"/>
<rect x="1029.05" y="243.75" width="37.4" height="84.55" fill="#ffffff" stroke="#000" stroke-width="1.9"/>
<path d="M1110.4 203.3 V192.5 M1100.15 192.5 H1120.65" stroke="#000" stroke-width="2.1" fill="none"/>
<rect x="1091.85" y="204.25" width="37.1" height="124.05" fill="#7fffc6" stroke="#000" stroke-width="1.9"/>
<path d="M1173.3 115.3 V107.5 M1163.05 107.5 H1183.55" stroke="#000" stroke-width="2.1" fill="none"/>
<rect x="1154.75" y="116.25" width="37.1" height="212.05" fill="#00c9a0" stroke="#000" stroke-width="1.9"/>
<path d="M1235.9 72.8 V64 M1225.65 64 H1246.15" stroke="#000" stroke-width="2.1" fill="none"/>
<rect x="1217.25" y="73.75" width="37.3" height="254.55" fill="#0b6b55" stroke="#000" stroke-width="1.9"/>
<text transform="translate(1041.49 350.3) scale(0.9843 1)" fill="#000"><tspan font-size="21.8" stroke="#000" stroke-width="0.3">0</tspan></text>
<text transform="translate(1099.35 350.3) scale(0.9750 1)" fill="#000"><tspan font-size="21.8" stroke="#000" stroke-width="0.3">50</tspan></text>
<text transform="translate(1156.05 350.3) scale(0.8850 1)" fill="#000"><tspan font-size="21.8" stroke="#000" stroke-width="0.3">100</tspan></text>
<text transform="translate(1217.78 350.3) scale(0.9784 1)" fill="#000"><tspan font-size="21.8" stroke="#000" stroke-width="0.3">250</tspan></text>
<text transform="translate(1009.32 372.7) scale(0.9205 1)" fill="#000"><tspan font-size="23.9" font-weight="bold" stroke="#000" stroke-width="0.45">Gal-9 Concentration</tspan><tspan font-size="23.9" stroke="#000" stroke-width="0.3"> (nM)</tspan></text>
<text transform="translate(1003.1 395.6) scale(0.9222 1)" fill="#000"><tspan font-size="23.9" stroke="#000" stroke-width="0.3">— SARS-CoV-2 Infection —</tspan></text>
<line x1="1043.8" y1="57" x2="1235" y2="57" stroke="#000" stroke-width="1.8" stroke-dasharray="1.6 1.6"/>
<text transform="translate(1121.85 60.3) scale(1.0839 1)" fill="#000"><tspan font-size="27.2" font-weight="bold" stroke="#000" stroke-width="0.45">***</tspan></text>
<line x1="1043.8" y1="88.8" x2="1172" y2="88.8" stroke="#000" stroke-width="1.8" stroke-dasharray="1.6 1.6"/>
<text transform="translate(1091.15 92.1) scale(1.0839 1)" fill="#000"><tspan font-size="27.2" font-weight="bold" stroke="#000" stroke-width="0.45">***</tspan></text>
<line x1="1043.8" y1="120" x2="1110" y2="120" stroke="#000" stroke-width="1.8" stroke-dasharray="1.6 1.6"/>
<text transform="translate(1071.86 123.3) scale(1.0642 1)" fill="#000"><tspan font-size="27.2" font-weight="bold" stroke="#000" stroke-width="0.45">*</tspan></text>
</g>
<g>
<text transform="translate(945.72 477.5) scale(0.9726 1)" fill="#231f20"><tspan font-size="31.3" font-weight="bold" stroke="#231f20" stroke-width="0.45">E</tspan></text>
<text transform="translate(1105.1 475.3) scale(0.9449 1)" fill="#000"><tspan font-size="23.9" font-weight="bold" stroke="#000" stroke-width="0.45">Calu-3</tspan></text>
<path d="M1000.5 483.6 Q1141 481.4 1281.5 483.6 Q1141 485.8 1000.5 483.6 Z" fill="#000"/>
<path d="M1005.7 498.95 V832.85" fill="none" stroke="#000" stroke-width="2.6"/>
<path d="M1004.4 831.5 H1277.3M997.7 500.5 H1005.7M997.7 566.8 H1005.7M997.7 633 H1005.7M997.7 699.2 H1005.7M997.7 765.4 H1005.7M997.7 831.5 H1005.7" stroke="#000" stroke-width="2.7" fill="none"/>
<text transform="translate(971.85 510) scale(0.9750 1)" fill="#000"><tspan font-size="21.8" stroke="#000" stroke-width="0.3">50</tspan></text>
<text transform="translate(972.28 576.1) scale(0.9566 1)" fill="#000"><tspan font-size="21.8" stroke="#000" stroke-width="0.3">40</tspan></text>
<text transform="translate(971.85 642.1) scale(0.9750 1)" fill="#000"><tspan font-size="21.8" stroke="#000" stroke-width="0.3">30</tspan></text>
<text transform="translate(971.63 708.1) scale(0.9846 1)" fill="#000"><tspan font-size="21.8" stroke="#000" stroke-width="0.3">20</tspan></text>
<text transform="translate(975.03 774.1) scale(0.8394 1)" fill="#000"><tspan font-size="21.8" stroke="#000" stroke-width="0.3">10</tspan></text>
<text transform="translate(983.54 840) scale(0.9843 1)" fill="#000"><tspan font-size="21.8" stroke="#000" stroke-width="0.3">0</tspan></text>
<text transform="translate(966.4 756.97) rotate(-90) scale(0.9477 1)" fill="#000"><tspan font-size="23.9" font-weight="bold" stroke="#000" stroke-width="0.45">Infected Cells</tspan><tspan font-size="23.9" stroke="#000" stroke-width="0.3"> %</tspan></text>
<path d="M1047.75 804.8 V795.8 M1037.5 795.8 H1058" stroke="#000" stroke-width="2.1" fill="none"/>
<rect x="1029.05" y="805.75" width="37.4" height="25.75" fill="#ffffff" stroke="#000" stroke-width="1.9"/>
<path d="M1110.4 712 V699.3 M1100.15 699.3 H1120.65" stroke="#000" stroke-width="2.1" fill="none"/>
<rect x="1091.85" y="712.95" width="37.1" height="118.55" fill="#7fffc6" stroke="#000" stroke-width="1.9"/>
<path d="M1173.3 564 V546 M1163.05 546 H1183.55" stroke="#000" stroke-width="2.1" fill="none"/>
<rect x="1154.75" y="564.95" width="37.1" height="266.55" fill="#00c9a0" stroke="#000" stroke-width="1.9"/>
<path d="M1235.9 565.8 V521.8 M1225.65 521.8 H1246.15" stroke="#000" stroke-width="2.1" fill="none"/>
<rect x="1217.25" y="566.75" width="37.3" height="264.75" fill="#0b6b55" stroke="#000" stroke-width="1.9"/>
<text transform="translate(1041.49 852.5) scale(0.9843 1)" fill="#000"><tspan font-size="21.8" stroke="#000" stroke-width="0.3">0</tspan></text>
<text transform="translate(1099.35 852.5) scale(0.9750 1)" fill="#000"><tspan font-size="21.8" stroke="#000" stroke-width="0.3">50</tspan></text>
<text transform="translate(1156.05 852.5) scale(0.8850 1)" fill="#000"><tspan font-size="21.8" stroke="#000" stroke-width="0.3">100</tspan></text>
<text transform="translate(1217.78 852.5) scale(0.9784 1)" fill="#000"><tspan font-size="21.8" stroke="#000" stroke-width="0.3">250</tspan></text>
<text transform="translate(1009.32 875.9) scale(0.9205 1)" fill="#000"><tspan font-size="23.9" font-weight="bold" stroke="#000" stroke-width="0.45">Gal-9 Concentration</tspan><tspan font-size="23.9" stroke="#000" stroke-width="0.3"> (nM)</tspan></text>
<text transform="translate(1003.1 898.8) scale(0.9222 1)" fill="#000"><tspan font-size="23.9" stroke="#000" stroke-width="0.3">— SARS-CoV-2 Infection —</tspan></text>
<line x1="1043.8" y1="508" x2="1234.5" y2="508" stroke="#000" stroke-width="1.8" stroke-dasharray="1.6 1.6"/>
<text transform="translate(1126.85 511.3) scale(1.0791 1)" fill="#000"><tspan font-size="27.2" font-weight="bold" stroke="#000" stroke-width="0.45">**</tspan></text>
<line x1="1043.8" y1="537.5" x2="1171.3" y2="537.5" stroke="#000" stroke-width="1.8" stroke-dasharray="1.6 1.6"/>
<text transform="translate(1090.25 540.8) scale(1.0839 1)" fill="#000"><tspan font-size="27.2" font-weight="bold" stroke="#000" stroke-width="0.45">***</tspan></text>
<line x1="1043.8" y1="568.8" x2="1109.5" y2="568.8" stroke="#000" stroke-width="1.8" stroke-dasharray="1.6 1.6"/>
<text transform="translate(1065.05 572.1) scale(1.0791 1)" fill="#000"><tspan font-size="27.2" font-weight="bold" stroke="#000" stroke-width="0.45">**</tspan></text>
</g>
<g id="panelD">
<text transform="translate(16.02 476.2) scale(0.9715 1)" fill="#231f20"><tspan font-size="31.3" font-weight="bold" stroke="#231f20" stroke-width="0.45">D</tspan></text>
<text transform="translate(133.61 476.8) scale(0.9578 1)" fill="#000"><tspan font-size="23.9" font-weight="bold" stroke="#000" stroke-width="0.45">Mock</tspan></text>
<path d="M83.6 485.5 Q165.05 483.6 246.5 485.5 Q165.05 487.4 83.6 485.5 Z" fill="#000"/>
<text transform="translate(283.68 476.8) scale(0.9456 1)" fill="#000"><tspan font-size="23.9" font-weight="bold" stroke="#000" stroke-width="0.45">Infection</tspan></text>
<path d="M250.8 485.5 Q332.25 483.6 413.7 485.5 Q332.25 487.4 250.8 485.5 Z" fill="#000"/>
<text transform="translate(451.58 452.8) scale(0.9456 1)" fill="#000"><tspan font-size="23.9" font-weight="bold" stroke="#000" stroke-width="0.45">Infection</tspan></text>
<text transform="translate(426.96 476.8) scale(0.9315 1)" fill="#000"><tspan font-size="23.9" font-weight="bold" stroke="#000" stroke-width="0.45">+ Gal-9 50 nM</tspan></text>
<path d="M417.8 485.5 Q499.25 483.6 580.7 485.5 Q499.25 487.4 417.8 485.5 Z" fill="#000"/>
<text transform="translate(619.28 452.8) scale(0.9456 1)" fill="#000"><tspan font-size="23.9" font-weight="bold" stroke="#000" stroke-width="0.45">Infection</tspan></text>
<text transform="translate(590.33 476.8) scale(0.9087 1)" fill="#000"><tspan font-size="23.9" font-weight="bold" stroke="#000" stroke-width="0.45">+ Gal-9 100 nM</tspan></text>
<path d="M585 485.5 Q666.45 483.6 747.9 485.5 Q666.45 487.4 585 485.5 Z" fill="#000"/>
<text transform="translate(786.98 452.8) scale(0.9456 1)" fill="#000"><tspan font-size="23.9" font-weight="bold" stroke="#000" stroke-width="0.45">Infection</tspan></text>
<text transform="translate(756.16 476.8) scale(0.9311 1)" fill="#000"><tspan font-size="23.9" font-weight="bold" stroke="#000" stroke-width="0.45">+ Gal-9 250 nM</tspan></text>
<path d="M752.1 485.5 Q833.55 483.6 915 485.5 Q833.55 487.4 752.1 485.5 Z" fill="#000"/>
<path d="M75.4 492.3 Q77.3 560.9 75.4 629.5 Q73.5 560.9 75.4 492.3 Z" fill="#000"/>
<path d="M75.4 627 Q77.3 695.6 75.4 764.2 Q73.5 695.6 75.4 627 Z" fill="#000"/>
<path d="M75.4 761.3 Q77.3 829.9 75.4 898.5 Q73.5 829.9 75.4 761.3 Z" fill="#000"/>
<text transform="translate(15.12 567.2) scale(0.9840 1)" fill="#000"><tspan font-size="23.9" stroke="#000" stroke-width="0.3">DAPI</tspan></text>
<text transform="translate(0.19 690.3) scale(0.9383 1)" fill="#000"><tspan font-size="23.9" stroke="#000" stroke-width="0.3">SARS-</tspan></text>
<text transform="translate(4.54 713.3) scale(0.9695 1)" fill="#000"><tspan font-size="23.9" stroke="#000" stroke-width="0.3">CoV-2</tspan></text>
<text transform="translate(3.87 837.1) scale(0.9588 1)" fill="#000"><tspan font-size="23.9" stroke="#000" stroke-width="0.3">Merge</tspan></text>
<svg x="87.1" y="496.3" width="155.4" height="129.2" viewBox="0 0 155.4 129.2" overflow="hidden"><use href="#dp0"/></svg>
<svg x="254.3" y="496.3" width="155.4" height="129.2" viewBox="0 0 155.4 129.2" overflow="hidden"><use href="#dp1"/></svg>
<svg x="421.3" y="496.3" width="155.4" height="129.2" viewBox="0 0 155.4 129.2" overflow="hidden"><use href="#dp2"/></svg>
<svg x="588.5" y="496.3" width="155.4" height="129.2" viewBox="0 0 155.4 129.2" overflow="hidden"><use href="#dp3"/></svg>
<svg x="755.6" y="496.3" width="155.4" height="129.2" viewBox="0 0 155.4 129.2" overflow="hidden"><use href="#dp4"/></svg>
<rect x="93.4" y="613.4" width="35.8" height="3.8" fill="#fff"/>
<svg x="87.1" y="631.0" width="155.4" height="129.2" viewBox="0 0 155.4 129.2" overflow="hidden"><use href="#gs0"/></svg>
<svg x="254.3" y="631.0" width="155.4" height="129.2" viewBox="0 0 155.4 129.2" overflow="hidden"><use href="#gs1"/></svg>
<svg x="421.3" y="631.0" width="155.4" height="129.2" viewBox="0 0 155.4 129.2" overflow="hidden"><use href="#gs2"/></svg>
<svg x="588.5" y="631.0" width="155.4" height="129.2" viewBox="0 0 155.4 129.2" overflow="hidden"><use href="#gs3"/></svg>
<svg x="755.6" y="631.0" width="155.4" height="129.2" viewBox="0 0 155.4 129.2" overflow="hidden"><use href="#gs4"/></svg>
<rect x="93.4" y="748.1" width="35.8" height="3.8" fill="#fff"/>
<svg x="87.1" y="765.3" width="155.4" height="129.2" viewBox="0 0 155.4 129.2" overflow="hidden"><use href="#dp0"/><rect width="155.4" height="129.2" fill="#000" opacity="0.3"/><use href="#gs0" style="mix-blend-mode:screen" opacity="0.75"/></svg>
<svg x="254.3" y="765.3" width="155.4" height="129.2" viewBox="0 0 155.4 129.2" overflow="hidden"><use href="#dp1"/><rect width="155.4" height="129.2" fill="#000" opacity="0.3"/><use href="#gs1" style="mix-blend-mode:screen" opacity="0.95"/></svg>
<svg x="421.3" y="765.3" width="155.4" height="129.2" viewBox="0 0 155.4 129.2" overflow="hidden"><use href="#dp2"/><rect width="155.4" height="129.2" fill="#000" opacity="0.3"/><use href="#gs2" style="mix-blend-mode:screen" opacity="0.85"/></svg>
<svg x="588.5" y="765.3" width="155.4" height="129.2" viewBox="0 0 155.4 129.2" overflow="hidden"><use href="#dp3"/><rect width="155.4" height="129.2" fill="#000" opacity="0.3"/><use href="#gs3" style="mix-blend-mode:screen" opacity="0.75"/></svg>
<svg x="755.6" y="765.3" width="155.4" height="129.2" viewBox="0 0 155.4 129.2" overflow="hidden"><use href="#dp4"/><rect width="155.4" height="129.2" fill="#000" opacity="0.3"/><use href="#gs4" style="mix-blend-mode:screen" opacity="0.75"/></svg>
<rect x="93.4" y="882.4" width="35.8" height="3.8" fill="#fff"/>
</g>
</g>
</svg>
<div id="frame"></div>
</body>
</html>
